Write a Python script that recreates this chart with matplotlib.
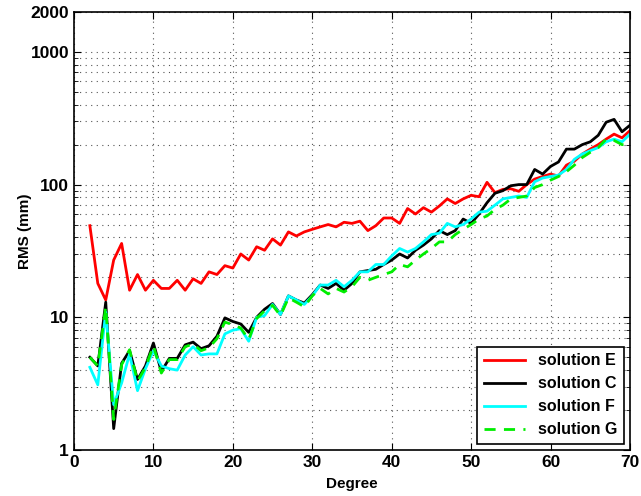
import numpy as np
import matplotlib
matplotlib.use('Agg')
import matplotlib.pyplot as plt
from matplotlib.ticker import FixedLocator, NullFormatter, LogLocator

plt.rcParams['font.family'] = ['Liberation Sans', 'DejaVu Sans']
plt.rcParams['font.weight'] = 'bold'

# Data
degree = np.arange(2, 71)

sol_E = [49, 18, 13.5, 27, 36, 16, 21, 16, 19, 16.5, 16.5, 19, 16, 19.5, 18, 22, 21, 24.5, 23.5,
         30, 27, 34, 32, 39, 35, 44, 41, 44, 46, 48, 50, 48, 52, 51, 53, 45, 49, 56, 56,
         51, 66, 60, 67, 62, 69, 78, 72, 78, 83, 81, 104, 87, 92, 93, 89, 100, 110, 115, 120,
         116, 140, 150, 170, 185, 200, 220, 240, 225, 255]
sol_C = [5, 4.3, 13, 1.45, 4.5, 5.6, 3.4, 4.3, 6.4, 3.9, 4.9, 4.9, 6.2, 6.5, 5.8, 6.1, 7.2, 9.9, 9.3,
         8.9, 7.7, 10, 11.5, 12.7, 10.5, 14.5, 13.5, 12.8, 14.8, 17.5, 16.5, 18, 16, 18, 22, 22.5, 23, 25, 27,
         30, 28, 32, 35, 39, 45, 42, 45, 55, 51, 60, 73, 86, 90, 98, 100, 100, 130, 120, 137,
         148, 185, 185, 200, 210, 235, 295, 310, 250, 280]
sol_F = [4.2, 3.1, 11, 2.2, 3.2, 5.3, 2.8, 4.1, 5.6, 4.3, 4.1, 4.0, 5.2, 6, 5.2, 5.3, 5.3, 7.5, 8.0,
         8.2, 6.6, 10, 10.3, 12.5, 10.5, 14.5, 13.5, 12.5, 14.5, 17.5, 17.5, 19, 17, 19, 22, 22, 25, 25, 29,
         33, 31, 33, 37, 42, 43, 51, 48, 50, 55, 62, 63, 70, 78, 80, 82, 80, 105, 112, 115,
         118, 130, 155, 170, 180, 190, 210, 220, 210, 240]
sol_G = [5, 4.3, 12, 1.7, 4.4, 5.7, 3.3, 4.2, 6.1, 3.8, 4.8, 4.8, 6.0, 6.3, 5.6, 5.9, 6.9, 9.2, 8.8,
         8.3, 6.8, 9.8, 11.2, 12.3, 10.3, 14, 13, 12, 14.5, 16.5, 15, 16.5, 15.5, 17, 20, 19, 20, 21, 22,
         25, 24, 27, 30, 33, 37, 37, 42, 46, 50, 55, 58, 65, 70, 78, 80, 82, 95, 100, 108,
         115, 125, 140, 160, 175, 190, 220, 215, 200, 200]

y_major = [1, 10, 100, 1000, 2000]

fig = plt.figure(figsize=(6.41, 4.96), dpi=100)
ax = fig.add_axes([0.1154, 0.0927, 0.8674, 0.8833])

ax.plot(degree, sol_E, color='#ff0000', lw=2, label='solution E')
ax.plot(degree, sol_C, color='black', lw=2, label='solution C')
ax.plot(degree, sol_F, color='#00ffff', lw=2, label='solution F')
ax.plot(degree, sol_G, color='#00ee00', lw=2, ls=(0, (4, 3)), label='solution G')

ax.set_yscale('log')
ax.set_xlim(0, 70)
ax.set_ylim(1, 2000)
ax.set_xticks(range(0, 71, 10))
ax.yaxis.set_major_locator(FixedLocator(y_major))
ax.set_yticklabels([str(v) for v in y_major])
ax.yaxis.set_minor_locator(LogLocator(base=10, subs=np.arange(2, 10)))
ax.yaxis.set_minor_formatter(NullFormatter())

grid_style = dict(ls=(0, (1, 4)), color='#555555', lw=0.8)
ax.grid(True, which='major', axis='both', **grid_style)
ax.grid(True, which='minor', axis='y', **grid_style)

ax.tick_params(which='both', direction='in', top=True, right=True, labelsize=12.5)
ax.tick_params(which='major', length=5)
ax.tick_params(which='minor', length=3)
for s in ax.spines.values():
    s.set_linewidth(1.2)

ax.set_xlabel('Degree', fontsize=11, fontweight='bold', labelpad=5)
ax.set_ylabel('RMS (mm)', fontsize=11, fontweight='bold')
ax.yaxis.set_label_coords(-0.075, 0.5)

leg = ax.legend(loc='lower right', fontsize=11.5, fancybox=False, framealpha=1,
                edgecolor='black', handlelength=2.6, borderaxespad=0.4)
leg.get_frame().set_linewidth(1.2)

fig.savefig('out.png', dpi=100)
